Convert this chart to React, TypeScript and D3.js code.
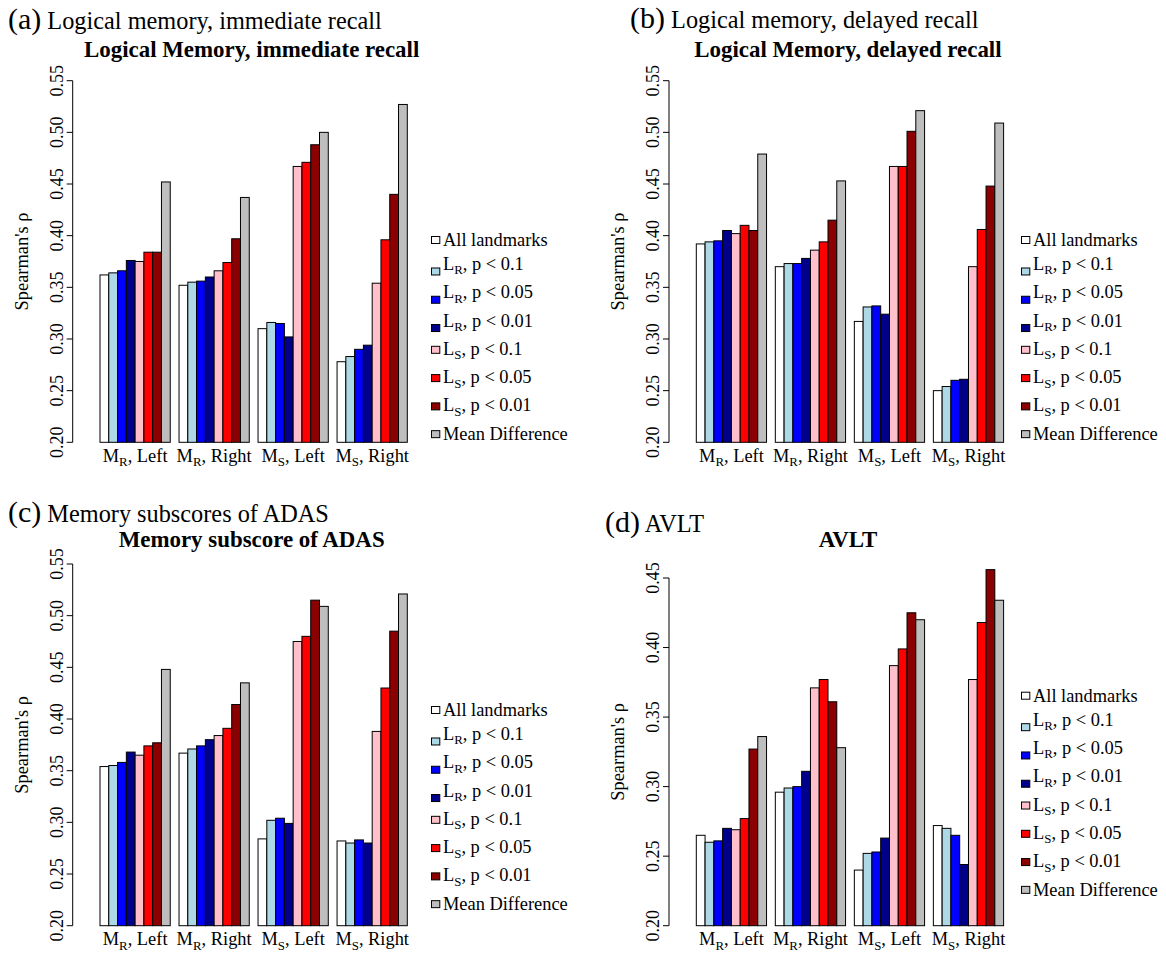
import React from 'react';
import * as d3 from 'd3';

// group labels: M with subscript + side
const groupSub = ['R', 'R', 'S', 'S'];
const groupSide = ['Left', 'Right', 'Left', 'Right'];

// legend entries (L with subscript, or plain text)
const seriesSub = ['', 'R', 'R', 'R', 'S', 'S', 'S', ''];
const seriesText = ['All landmarks', ', p < 0.1', ', p < 0.05', ', p < 0.01', ', p < 0.1', ', p < 0.05', ', p < 0.01', 'Mean Difference'];
const seriesColors = ['#FFFFFF', '#ADD8E6', '#0000FF', '#00008B', '#FFC0CB', '#FF0000', '#8B0000', '#BEBEBE'];

// Spearman's rho, one row per group, one value per series
const logicalImmediate = [
  [0.362, 0.364, 0.366, 0.376, 0.375, 0.384, 0.384, 0.452],
  [0.352, 0.355, 0.356, 0.360, 0.366, 0.374, 0.397, 0.437],
  [0.310, 0.316, 0.315, 0.302, 0.467, 0.471, 0.488, 0.500],
  [0.278, 0.283, 0.290, 0.294, 0.354, 0.396, 0.440, 0.527]
];
const logicalDelayed = [
  [0.392, 0.394, 0.395, 0.405, 0.402, 0.410, 0.405, 0.479],
  [0.370, 0.373, 0.373, 0.378, 0.386, 0.394, 0.415, 0.453],
  [0.317, 0.331, 0.332, 0.324, 0.467, 0.467, 0.501, 0.521],
  [0.250, 0.254, 0.260, 0.261, 0.370, 0.406, 0.448, 0.509]
];
const adasMemory = [
  [0.354, 0.355, 0.358, 0.368, 0.365, 0.374, 0.377, 0.448],
  [0.367, 0.371, 0.374, 0.380, 0.384, 0.391, 0.414, 0.435],
  [0.284, 0.302, 0.304, 0.299, 0.475, 0.480, 0.515, 0.509],
  [0.282, 0.280, 0.283, 0.280, 0.388, 0.430, 0.485, 0.521]
];
const avlt = [
  [0.265, 0.260, 0.261, 0.270, 0.269, 0.277, 0.327, 0.336],
  [0.296, 0.299, 0.300, 0.311, 0.371, 0.377, 0.361, 0.328],
  [0.240, 0.252, 0.253, 0.263, 0.387, 0.399, 0.425, 0.420],
  [0.272, 0.270, 0.265, 0.244, 0.377, 0.418, 0.456, 0.434]
];

const ticksWide = [0.20, 0.25, 0.30, 0.35, 0.40, 0.45, 0.50, 0.55];
const ticksAvlt = [0.20, 0.25, 0.30, 0.35, 0.40, 0.45];

const serif = { fontFamily: '"Liberation Serif", serif' };
const fs = 18.4;

const panels = [
  { tag: '(a)', caption: 'Logical memory, immediate recall', title: 'Logical Memory, immediate recall',
    values: logicalImmediate, ticks: ticksWide, barX: 100, top: 80.7, bottom: 442.3,
    capX: 8, capY: 29.3, titleY: 57.3, legX: 443, legY: 241.7 },
  { tag: '(b)', caption: 'Logical memory, delayed recall', title: 'Logical Memory, delayed recall',
    values: logicalDelayed, ticks: ticksWide, barX: 696.3, top: 80.7, bottom: 442.3,
    capX: 630, capY: 28.3, titleY: 57.3, legX: 1033, legY: 241.7 },
  { tag: '(c)', caption: 'Memory subscores of ADAS', title: 'Memory subscore of ADAS',
    values: adasMemory, ticks: ticksWide, barX: 100, top: 564, bottom: 925.7,
    capX: 8, capY: 521.7, titleY: 546.7, legX: 443, legY: 711.7 },
  { tag: '(d)', caption: 'AVLT', title: 'AVLT',
    values: avlt, ticks: ticksAvlt, barX: 696.3, top: 578, bottom: 925.7,
    capX: 605, capY: 531.7, titleY: 546.7, legX: 1033, legY: 697.4 }
];

function Panel({ p }) {
  const ticks = p.ticks;
  const y = d3.scaleLinear().domain([ticks[0], ticks[ticks.length - 1]]).range([p.bottom, p.top]);
  // R barplot units: space 1 before each group of 8 bars
  const x = d3.scaleLinear().domain([1, 36]).range([p.barX, p.barX + 307.3]);
  const axisX = p.barX - 27.3;
  const fmt = d3.format('.2f');
  const midY = (p.top + p.bottom) / 2;
  const rowStep = 28.28;

  return (
    <g>
      <text x={p.capX} y={p.capY} fill="#000" style={serif}>
        <tspan fontSize={30}>{p.tag}</tspan>
        <tspan fontSize={24.3}>{' ' + p.caption}</tspan>
      </text>
      <text x={x(18.5) - 2} y={p.titleY} fontWeight="bold" fontSize={22.9} textAnchor="middle" style={serif}>
        {p.title}
      </text>

      {p.values.map((row, g) =>
        row.map((v, s) => {
          const u = 1 + g * 9 + s;
          return (
            <rect key={g + '-' + s} x={x(u)} y={y(v)} width={x(u + 1) - x(u)} height={p.bottom - y(v)}
              fill={seriesColors[s]} stroke="#000" strokeWidth={1} />
          );
        })
      )}

      <line x1={axisX} x2={axisX} y1={y(ticks[0])} y2={y(ticks[ticks.length - 1])} stroke="#000" />
      {ticks.map(t => (
        <g key={t}>
          <line x1={axisX - 6} x2={axisX} y1={y(t)} y2={y(t)} stroke="#000" />
          <text transform={`translate(${axisX - 10},${y(t)}) rotate(-90)`} textAnchor="middle"
            fontSize={18} style={serif}>{fmt(t)}</text>
        </g>
      ))}
      <text transform={`translate(${axisX - 45},${midY}) rotate(-90)`} textAnchor="middle"
        fontSize={fs} style={serif}>Spearman's ρ</text>

      {groupSub.map((sub, g) => (
        <text key={g} x={x(1 + g * 9 + 4)} y={p.bottom + 19.4} textAnchor="middle" fontSize={fs} style={serif}>
          M<tspan fontSize={fs * 0.7} dy={4.5}>{sub}</tspan><tspan dy={-4.5}>{', ' + groupSide[g]}</tspan>
        </text>
      ))}

      {seriesText.map((t, i) => {
        const sub = seriesSub[i];
        const shift = sub ? 0 : i === 0 ? 4.3 : 0.5;
        const base = p.legY + i * rowStep + shift;
        const boxC = sub === 'R' ? base + 1.5 : sub === 'S' ? base - 5 : base - 6;
        return (
          <g key={i}>
            <rect x={p.legX - 11.5} y={boxC - 3.5} width={8.3} height={7} fill={seriesColors[i]} stroke="#000" strokeWidth={1} />
            <text x={p.legX} y={base} fontSize={fs} style={serif}>
              {sub ? (
                <>L<tspan fontSize={fs * 0.7} dy={4.5}>{sub}</tspan><tspan dy={-4.5}>{t}</tspan></>
              ) : t}
            </text>
          </g>
        );
      })}
    </g>
  );
}

export default function App() {
  return (
    <svg width={1166} height={954} style={{ position: 'absolute', left: 0, top: 0, background: '#fff' }}>
      <rect width={1166} height={954} fill="#fff" />
      {panels.map(p => <Panel key={p.tag} p={p} />)}
    </svg>
  );
}
